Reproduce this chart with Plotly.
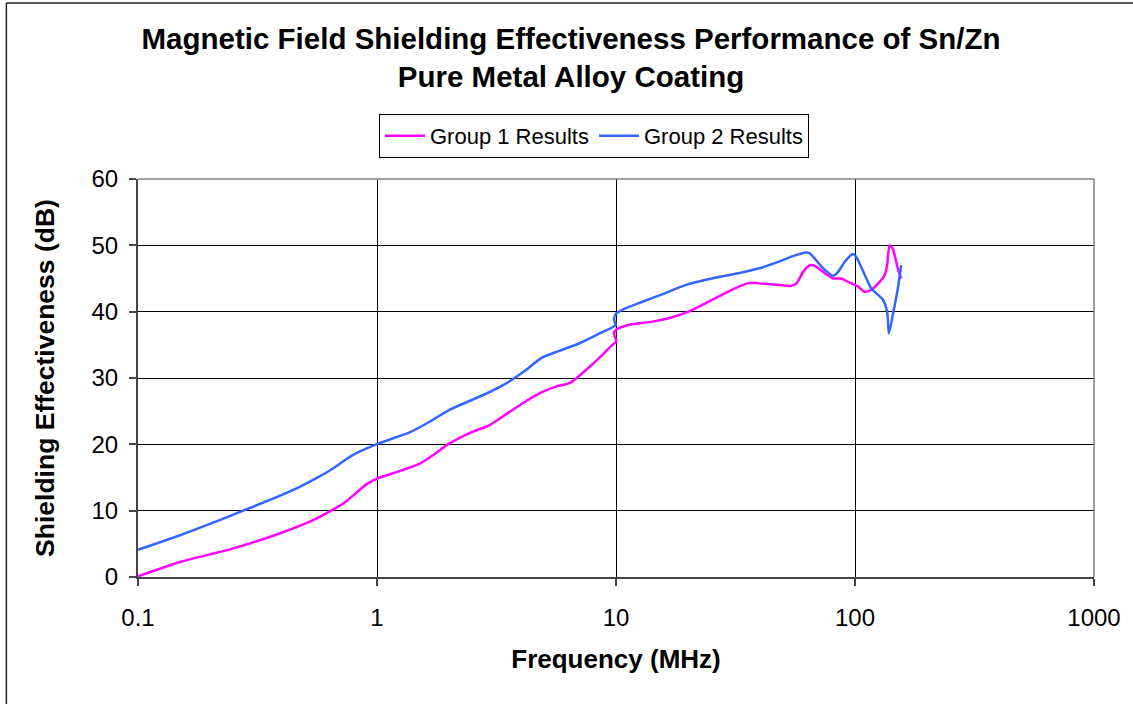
import plotly.graph_objects as go

# ---- data ----
freq_g1 = [0.1, 0.151, 0.244, 0.394, 0.543, 0.724, 0.906, 1.01, 1.25, 1.51, 1.72, 1.98,
           2.44, 2.96, 3.36, 4.07, 4.85, 5.6, 6.46, 7.48, 8.77, 9.66, 10.03, 9.81, 10.03,
           11.3, 14.2, 16.6, 20.1, 24.4, 30.5, 35.8, 39.4, 54.3, 57, 60.7, 64.7, 67.9,
           74.8, 81, 87.7, 93.5, 102.9, 109.6, 116.9, 126.7, 133.0, 136.3, 139.5, 143.9,
           151.1, 156.0]
se_g1 = [0.1, 2.3, 4.2, 6.6, 8.6, 11.1, 14.0, 14.9, 16.0, 17.1, 18.4, 20.0,
         21.7, 22.9, 24.2, 26.2, 27.8, 28.7, 29.3, 31.2, 33.5, 35.0, 35.5, 36.7, 37.3,
         38.0, 38.5, 39.0, 40.0, 41.5, 43.3, 44.3, 44.3, 43.9, 44.3, 46.0, 47.0, 46.9,
         45.8, 45.0, 45.0, 44.5, 43.8, 43.0, 43.3, 44.5, 45.5, 47.0, 50.0, 49.5,
         46.5, 45.0]

freq_g2 = [0.1, 0.15, 0.2, 0.269, 0.35, 0.463, 0.55, 0.637, 0.794, 1.01, 1.37, 1.66,
           2.01, 2.77, 3.47, 4.2, 4.86, 5.79, 7.0, 8.5, 9.97, 9.81, 10.0, 10.96, 12.9,
           16.1, 19.5, 25.1, 32.5, 39.4, 47.7, 54.3, 61.7, 64.7, 72.4, 81, 85, 90.5,
           97.8, 101, 110, 116.9, 120.8, 130.8, 136.3, 138.6, 143.9, 151.1, 156.0]
se_g2 = [4.1, 6.3, 8.0, 9.85, 11.5, 13.4, 14.8, 16.1, 18.4, 20.1, 21.8, 23.4,
         25.2, 27.4, 29.2, 31.2, 33.0, 34.1, 35.2, 36.7, 38.0, 38.8, 39.7, 40.5, 41.5,
         42.8, 44.0, 45.0, 45.8, 46.5, 47.5, 48.3, 48.9, 48.8, 46.8, 45.4, 46.0, 47.5,
         48.7, 48.3, 45.5, 43.5, 43.0, 41.8, 40.0, 36.7, 39.5, 43.5, 47.0]

x_tickvals = [0.1, 1, 10, 100, 1000]
x_ticktext = ["0.1", "1", "10", "100", "1000"]
y_tickvals = [0, 10, 20, 30, 40, 50, 60]

FONT = "Liberation Sans, Arial, sans-serif"

fig = go.Figure()
fig.add_trace(go.Scatter(x=freq_g1, y=se_g1, mode="lines", name="Group 1 Results",
                         line=dict(color="#FF00FF", width=2.5, shape="spline", smoothing=0.6)))
fig.add_trace(go.Scatter(x=freq_g2, y=se_g2, mode="lines", name="Group 2 Results",
                         line=dict(color="#3366FF", width=2.5, shape="spline", smoothing=0.6)))

fig.update_layout(
    width=1133, height=704,
    margin=dict(l=138, r=29, t=179, b=127),
    paper_bgcolor="white", plot_bgcolor="white",
    font=dict(family=FONT, color="black"),
    title=dict(text="<b>Magnetic Field Shielding Effectiveness Performance of Sn/Zn<br>Pure Metal Alloy Coating</b>",
               x=0.504, xanchor="center", y=0.931, yanchor="top",
               font=dict(size=29.5, family=FONT)),
    legend=dict(orientation="h", x=0.477, xanchor="center", y=1.1635, yanchor="top",
                bordercolor="black", borderwidth=1, bgcolor="white",
                font=dict(size=22, family=FONT), itemwidth=40,
                tracegroupgap=0),
    showlegend=True,
)

fig.update_xaxes(type="log", range=[-1, 3], tickvals=x_tickvals, ticktext=x_ticktext,
                 showgrid=True, gridcolor="black", gridwidth=1,
                 showline=True, linecolor="#444444", linewidth=2,
                 ticks="outside", ticklen=7, tickcolor="#444444", tickwidth=1.5,
                 tickfont=dict(size=24, family=FONT), ticklabelstandoff=11,
                 title=dict(text="<b>Frequency (MHz)</b>", font=dict(size=26, family=FONT), standoff=20))
fig.update_yaxes(range=[0, 60], tickvals=y_tickvals,
                 showgrid=True, gridcolor="black", gridwidth=1, zeroline=False,
                 showline=True, linecolor="#444444", linewidth=2,
                 ticks="outside", ticklen=7, tickcolor="#444444", tickwidth=1.5,
                 tickfont=dict(size=24, family=FONT), ticklabelstandoff=6,
                 title=dict(text="<b>Shielding Effectiveness (dB)</b>", font=dict(size=26.5, family=FONT), standoff=29))

# grey border on top and right of plot area
fig.add_shape(type="line", xref="paper", yref="paper", x0=0, x1=1, y0=1, y1=1,
              line=dict(color="#808080", width=1.5), layer="above")
fig.add_shape(type="line", xref="paper", yref="paper", x0=1, x1=1, y0=0, y1=1,
              line=dict(color="#808080", width=1.5), layer="above")
# outer chart frame (left and top edges visible)
fig.add_shape(type="line", xref="paper", yref="paper", x0=(5 - 138) / 966, x1=2,
              y0=(577 - 3) / 398, y1=(577 - 3) / 398, line=dict(color="#222222", width=1.5))
fig.add_shape(type="line", xref="paper", yref="paper", x0=(5 - 138) / 966, x1=(5 - 138) / 966,
              y0=-2, y1=(577 - 3) / 398, line=dict(color="#222222", width=1.5))

fig.write_html("out.html")
